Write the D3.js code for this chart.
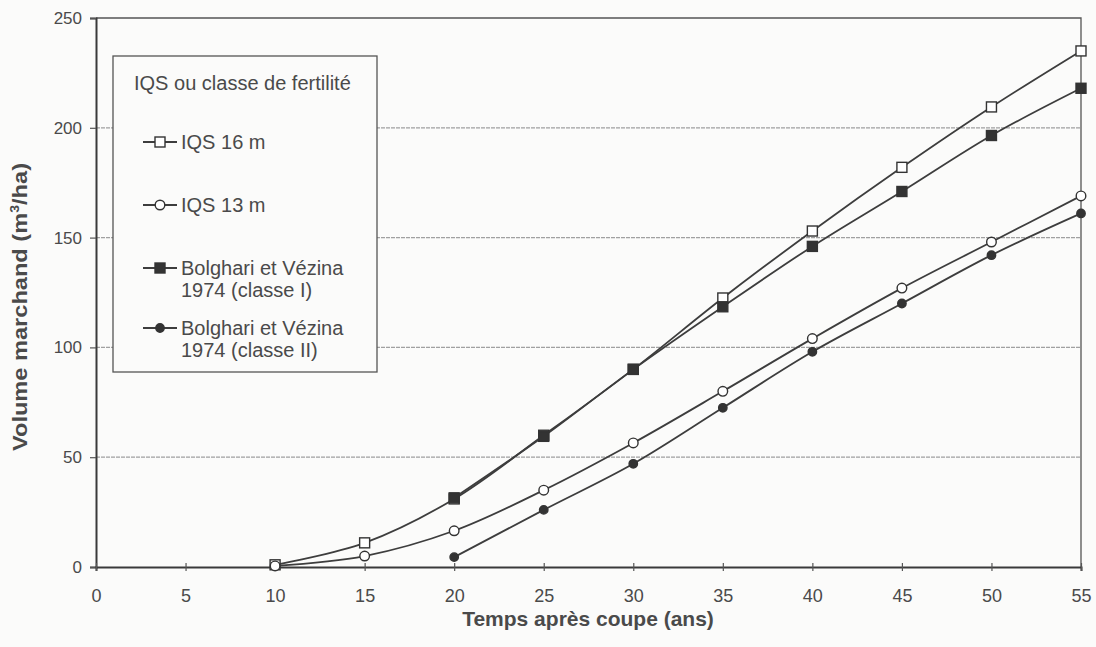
<!DOCTYPE html>
<html>
<head>
<meta charset="utf-8">
<script src="https://cdn.jsdelivr.net/npm/d3@7"></script>
<style>
  body { margin: 0; background: #fbfbfa; }
  text { font-family: "Liberation Sans", Arial, sans-serif; fill: #4a4a4a; }
</style>
</head>
<body>
<svg id="chart" width="1096" height="647"></svg>
<script>
// values
const years = [10, 15, 20, 25, 30, 35, 40, 45, 50, 55];
const iqs16 = [1, 11, 31, 60, 90, 122.5, 153, 182, 209.5, 235];
const iqs13 = [0.5, 5, 16.5, 35, 56.5, 80, 104, 127, 148, 169];
const bolgYears = [20, 25, 30, 35, 40, 45, 50, 55];
const bolgI = [31.5, 59.5, 90, 118.5, 146, 171, 196.5, 218];
const bolgII = [4.5, 26, 47, 72.5, 98, 120, 142, 161];
const xTicks = [0, 5, 10, 15, 20, 25, 30, 35, 40, 45, 50, 55];
const yTicks = [0, 50, 100, 150, 200, 250];

const series = [
  { name: ['IQS 16 m'], xs: years, ys: iqs16, shape: 'square', filled: false },
  { name: ['IQS 13 m'], xs: years, ys: iqs13, shape: 'circle', filled: false },
  { name: ['Bolghari et Vézina', '1974 (classe I)'], xs: bolgYears, ys: bolgI, shape: 'square', filled: true },
  { name: ['Bolghari et Vézina', '1974 (classe II)'], xs: bolgYears, ys: bolgII, shape: 'circle', filled: true }
];

const svg = d3.select('#chart');
const plotL = 96, plotR = 1081, plotT = 18, plotB = 567;

const x = d3.scaleLinear().domain([0, 55]).range([plotL, plotR]);
const y = d3.scaleLinear().domain([0, 250]).range([plotB, plotT]);

const ink = '#3a3a3a';

// grid lines
svg.append('g').selectAll('line')
  .data(yTicks.filter(d => d > 0 && d < 250))
  .enter().append('line')
  .attr('x1', plotL).attr('x2', plotR)
  .attr('y1', d => y(d)).attr('y2', d => y(d))
  .attr('stroke', '#a0a0a0')
  .attr('stroke-width', 1.2)
  .attr('stroke-dasharray', '4,1');

// frame top + right
svg.append('path')
  .attr('d', `M${plotL},${plotT}H${plotR}V${plotB}`)
  .attr('fill', 'none').attr('stroke', '#555').attr('stroke-width', 1.3);

// axes
const yAxis = svg.append('g')
  .attr('transform', `translate(${plotL},0)`)
  .call(d3.axisLeft(y).tickValues(yTicks).tickSize(6).tickPadding(8));
const xAxis = svg.append('g')
  .attr('transform', `translate(0,${plotB})`)
  .call(d3.axisBottom(x).tickValues(xTicks).tickSize(4).tickPadding(18));

[yAxis, xAxis].forEach(g => {
  g.select('.domain').attr('stroke', ink).attr('stroke-width', 2);
  g.selectAll('.tick line').attr('stroke', '#555').attr('stroke-width', 1.2);
  g.selectAll('.tick text').attr('fill', '#555');
});
yAxis.selectAll('.tick text').style('font-size', '17px');
xAxis.selectAll('.tick text').style('font-size', '18px');
xAxis.selectAll('.tick line').attr('y1', -4);

// axis titles
svg.append('text')
  .attr('x', 588).attr('y', 626)
  .attr('text-anchor', 'middle')
  .style('font-size', '21px').style('font-weight', 'bold')
  .text('Temps après coupe (ans)');

const yt = svg.append('text')
  .attr('transform', 'translate(27,307) rotate(-90)')
  .attr('text-anchor', 'middle')
  .attr('textLength', 288)
  .attr('lengthAdjust', 'spacingAndGlyphs')
  .style('font-size', '20px').style('font-weight', 'bold');
yt.append('tspan').text('Volume marchand (m');
yt.append('tspan').attr('dy', -8).style('font-size', '12px').text('3');
yt.append('tspan').attr('dy', 8).text('/ha)');

// lines
const line = d3.line()
  .x(d => x(d[0])).y(d => y(d[1]))
  .curve(d3.curveCatmullRom.alpha(0.5));

function drawMarker(g, s, cx, cy) {
  if (s.shape === 'square') {
    g.append('rect')
      .attr('x', cx - 5).attr('y', cy - 5)
      .attr('width', 10).attr('height', 10)
      .attr('fill', s.filled ? '#333' : '#fff')
      .attr('stroke', '#333').attr('stroke-width', 1.4);
  } else {
    g.append('circle')
      .attr('cx', cx).attr('cy', cy).attr('r', s.filled ? 4.2 : 4.8)
      .attr('fill', s.filled ? '#333' : '#fff')
      .attr('stroke', '#333').attr('stroke-width', 1.4);
  }
}

series.forEach(s => {
  const pts = s.xs.map((v, i) => [v, s.ys[i]]);
  svg.append('path')
    .datum(pts)
    .attr('d', line)
    .attr('fill', 'none')
    .attr('stroke', '#3d3d3d')
    .attr('stroke-width', 1.8);
});
series.forEach(s => {
  const g = svg.append('g');
  s.xs.forEach((v, i) => drawMarker(g, s, x(v), y(s.ys[i])));
});

// legend
const lg = svg.append('g');
lg.append('rect')
  .attr('x', 113).attr('y', 56).attr('width', 264).attr('height', 316)
  .attr('fill', '#fbfbfa').attr('stroke', '#555').attr('stroke-width', 1.3);
lg.append('text')
  .attr('x', 134).attr('y', 90)
  .style('font-size', '20px')
  .text('IQS ou classe de fertilité');

const rows = [142, 205, 268, 328];
series.forEach((s, i) => {
  const ry = rows[i];
  lg.append('line')
    .attr('x1', 143).attr('x2', 177)
    .attr('y1', ry).attr('y2', ry)
    .attr('stroke', '#3d3d3d').attr('stroke-width', 1.8);
  drawMarker(lg, s, 160, ry);
  s.name.forEach((t, j) => {
    lg.append('text')
      .attr('x', 181).attr('y', ry + 7 + j * 22)
      .style('font-size', '20px')
      .text(t);
  });
});
</script>
</body>
</html>
